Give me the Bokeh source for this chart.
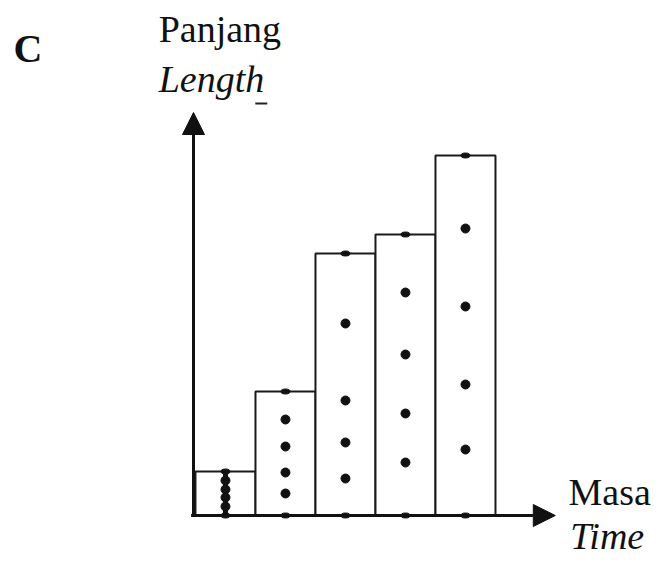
from bokeh.plotting import figure
from bokeh.models import Range1d, Label, Arrow, NormalHead
from bokeh.embed import file_html
from bokeh.resources import INLINE

# ---- data (length units ~ scaled to picture) ----
strips = [1, 2, 3, 4, 5]                 # time slots (tape strips)
strip_length = [44, 124, 262, 281, 360]  # strip heights
dots = [
    [0, 9, 18, 26, 35, 44],
    [0, 22, 43, 69, 96, 124],
    [0, 37, 73, 115, 192, 262],
    [0, 53, 102, 161, 223, 281],
    [0, 66, 131, 209, 287, 360],
]
y_label = ["Panjang", "Length"]
x_label = ["Masa", "Time"]
panel = "C"

W, H = 652, 557
px_x = 60.0          # pixels per time unit
ox, oy = 193, 42     # origin offset in pixels
p = figure(width=W, height=H, output_backend="svg", toolbar_location=None,
           x_range=Range1d(-ox / px_x, (W - ox) / px_x),
           y_range=Range1d(-oy, H - oy), min_border=0)
p.axis.visible = False
p.grid.visible = False
p.outline_line_color = None
p.background_fill_color = "white"

off = 0.033
lefts = [s - 1 + off for s in strips]
rights = [s + off for s in strips]
p.quad(left=lefts, right=rights, bottom=0, top=strip_length,
       fill_color="white", line_color="#1a1a1a", line_width=2)

# dots
ix, iy, ex, ey = [], [], [], []
centers = []
for s, d in zip(strips, dots):
    cx = s - 1 + off + 0.5
    centers.append(cx)
    for k, v in enumerate(d):
        if k == 0 or k == len(d) - 1:
            ex.append(cx); ey.append(v)
        else:
            ix.append(cx); iy.append(v)
# first strip: dots so close they merge into a beaded line
p.segment(x0=[centers[0]], y0=[dots[0][0]], x1=[centers[0]], y1=[dots[0][-1] - 2],
          line_width=5, line_color="#111111")
p.scatter(ix, iy, size=9, color="#111111")
p.ellipse(x=ex, y=ey, width=0.15, height=5, color="#111111")

# axes with arrows
p.add_layout(Arrow(end=NormalHead(size=22, fill_color="#111111", line_color="#111111"),
                   x_start=0, y_start=0, x_end=0, y_end=403,
                   line_width=3, line_color="#111111"))
p.add_layout(Arrow(end=NormalHead(size=22, fill_color="#111111", line_color="#111111"),
                   x_start=-0.04, y_start=0, x_end=6.03, y_end=0,
                   line_width=3, line_color="#111111"))

font = "Liberation Serif"
shift = 12
def lab(x, y, t, size, style="normal"):
    p.add_layout(Label(x=x, y=y + shift, text=t, text_font=font, text_font_size=size,
                       text_font_style=style, text_color="#111111",
                       text_baseline="alphabetic", text_align="left"))

lab(-3.0, 455, panel, "40px", "bold")
lab(-0.58, 475, y_label[0], "38px")
lab(-0.58, 425, y_label[1], "38px", "italic")
p.segment(x0=[1.03], y0=[412], x1=[1.23], y1=[412], line_width=2, line_color="#222222")
lab(6.25, 12, x_label[0], "38px")
lab(6.28, -32, x_label[1], "38px", "italic")

open("out.html", "w").write(file_html(p, INLINE))
